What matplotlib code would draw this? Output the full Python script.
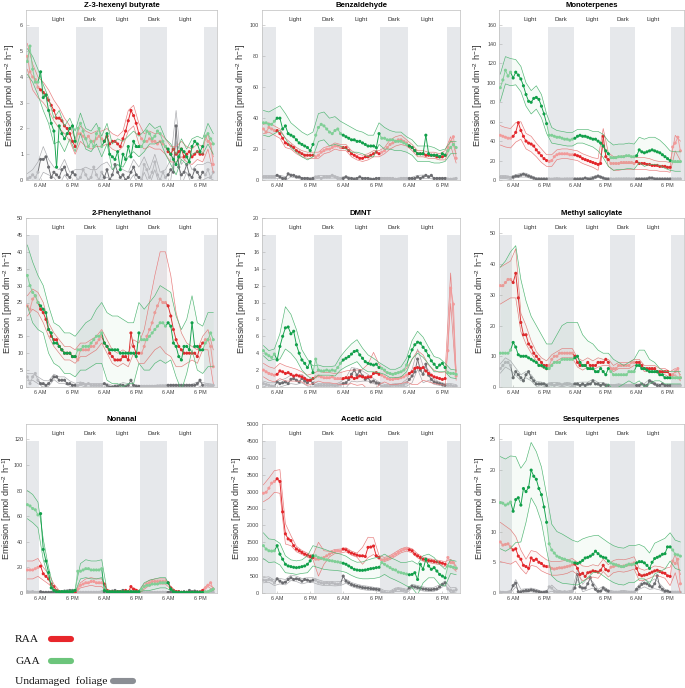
import numpy as np
import matplotlib.pyplot as plt
from matplotlib.collections import LineCollection
from matplotlib.lines import Line2D

plt.rcParams['font.family'] = ['Liberation Sans', 'DejaVu Sans']
plt.rcParams['mathtext.default'] = 'regular'

# time axis (hours from first midnight), one sample per hour; bands every 2 h
hours = list(range(1, 72))
sd_hours = hours[::2]
tick_hours = [6, 18, 30, 42, 54, 66]
tick_labels = ['6 AM', '6 PM', '6 AM', '6 PM', '6 AM', '6 PM']
dark_periods = [(0.5, 5.5), (19.5, 29.5), (43.5, 53.5), (67.5, 72.4)]
period_labels = [(12.5, 'Light'), (24.5, 'Dark'), (36.5, 'Light'), (48.5, 'Dark'), (60.5, 'Light')]

# ---- Z-3-hexenyl butyrate
z3hb_raa = [4.8, 4.2, 4.0, 3.9, 3.6,
            3.5, 3.4, 3.3, 3.1, 2.9, 2.7, 2.4, 2.4, 2.3, 2.1, 2.0, 1.8, 1.5, 1.3,
            1.8, 1.8, 1.7, 1.6, 1.7, 1.5, 1.5, 1.6, 1.7, 1.6,
            1.5, 1.7, 1.4, 1.5, 1.5, 1.4, 1.3, 1.6, 1.9, 2.3, 2.7, 2.5, 2.2, 1.8,
            1.6, 1.5, 1.5, 1.6, 1.5, 1.5, 1.4, 1.5, 1.4, 1.3,
            1.1, 1.0, 1.2, 1.0, 1.1, 1.2, 0.9, 1.0, 1.1, 0.9, 1.0, 1.1, 1.0, 1.0,
            1.7, 1.5, 1.4, 0.6]
z3hb_raa_sd = [0.5, 0.5, 0.4, 0.4, 0.4, 0.4, 0.4, 0.3, 0.3, 0.3, 0.3, 0.3, 0.3, 0.3, 0.3, 0.3, 0.3, 0.3,
               0.3, 0.4, 0.4, 0.4, 0.3, 0.3, 0.3, 0.3, 0.3, 0.3, 0.3, 0.3, 0.3, 0.3, 0.3, 0.3, 0.3, 0.3]
z3hb_gaa = [4.6, 5.2, 4.3, 3.8, 3.8,
            4.2, 3.2, 3.3, 2.7, 2.2, 1.9, 0.5, 2.1, 1.8, 1.6, 1.8, 2.0, 2.1, 1.5,
            2.0, 2.2, 1.9, 1.6, 1.3, 1.5, 1.3, 1.8, 2.0, 1.3,
            1.5, 1.8, 1.0, 0.9, 0.8, 1.1, 0.4, 1.0, 0.8, 1.3, 0.9, 1.5, 1.3, 1.3,
            1.3, 1.5, 1.9, 1.8, 1.6, 1.7, 1.9, 1.8, 1.5, 1.3,
            1.2, 1.0, 0.8, 0.6, 0.9, 1.2, 1.1, 0.9, 0.7, 1.3, 1.5, 1.4, 1.1, 1.3,
            1.7, 1.8, 1.6, 1.4]
z3hb_gaa_sd = [0.5, 0.5, 0.5, 0.5, 0.5, 0.5, 0.6, 0.5, 0.4, 0.4, 0.4, 0.4, 0.4, 0.4, 0.4, 0.4, 0.5, 0.5,
               0.5, 0.4, 0.4, 0.4, 0.4, 0.4, 0.3, 0.3, 0.3, 0.4, 0.4, 0.4, 0.3, 0.3, 0.3, 0.3, 0.4, 0.4]
z3hb_und = [0.05, 0.1, 0.2, 0.1, 0.3,
            0.8, 0.8, 0.9, 0.5, 0.1, 0.3, 0.2, 0.1, 0.4, 0.5, 0.2, 0.1, 0.3, 0.2,
            0.0, 0.1, 0.4, 0.2, 0.0, 0.1, 0.5, 0.2, 0.0, 0.3,
            0.1, 0.4, 0.0, 0.2, 0.6, 0.3, 0.1, 0.2, 0.0, 0.1, 0.3, 0.5, 0.2, 0.1,
            0.0, 0.6, 0.4, 0.1, 0.3, 0.7, 0.2, 0.0, 0.3, 0.1,
            0.2, 0.4, 0.3, 2.1, 0.5, 0.2, 0.3, 0.6, 0.2, 0.1, 0.4, 0.3, 0.1, 0.3,
            0.2, 0.4, 0.1, 0.3]
z3hb_und_sd = [0.2, 0.2, 0.4, 0.5, 0.3, 0.2, 0.3, 0.3, 0.2, 0.2, 0.3, 0.3, 0.3, 0.2, 0.3, 0.3, 0.2, 0.3,
               0.2, 0.2, 0.3, 0.4, 0.3, 0.3, 0.3, 0.3, 0.3, 0.4, 0.6, 0.4, 0.3, 0.3, 0.3, 0.3, 0.3, 0.3]

# ---- Benzaldehyde
benz_raa = [33, 31, 34, 33, 32,
            32, 30, 27, 24, 23, 22, 21, 19, 18, 17, 16, 16, 16, 16,
            15, 16, 18, 19, 20, 20, 21, 22, 22, 21,
            21, 21, 19, 17, 16, 15, 14, 14, 15, 15, 16, 17, 18, 17,
            18, 19, 21, 23, 24, 25, 26, 26, 25, 24,
            22, 21, 19, 17, 17, 17, 16, 16, 16, 16, 15, 15, 15, 16,
            21, 25, 28, 14]
benz_raa_sd = [3, 3, 3, 3, 3, 2, 2, 2, 2, 2, 2, 2, 2, 2, 2, 2, 2, 2,
               2, 2, 2, 2, 2, 3, 3, 3, 2, 2, 2, 2, 2, 2, 2, 3, 3, 3]
benz_gaa = [37, 37, 36, 36, 38,
            40, 40, 33, 35, 30, 29, 28, 26, 24, 23, 22, 21, 19, 23,
            29, 34, 36, 35, 33, 31, 30, 32, 33, 30,
            29, 28, 27, 26, 26, 25, 25, 24, 23, 22, 22, 22, 21, 30,
            27, 27, 26, 26, 26, 25, 25, 25, 24, 23,
            22, 21, 19, 17, 17, 17, 29, 17, 16, 16, 16, 15, 17, 16,
            19, 21, 23, 21]
benz_gaa_sd = [8, 8, 8, 8, 8, 8, 8, 8, 8, 8, 9, 9, 9, 9, 8, 8, 8, 7,
               7, 7, 7, 7, 7, 6, 6, 6, 5, 5, 5, 5, 5, 5, 4, 4, 4, 4]
benz_und = [2, 2, 2, 2, 2,
            3, 2, 1, 1, 4, 3, 3, 2, 2, 1, 1, 1, 0.5, 1,
            2, 2, 1, 2, 2, 2, 3, 2, 1, 1,
            1, 2, 1, 1, 0.5, 1, 2, 1, 1, 1, 0.5, 0.5, 1, 1,
            1, 1, 1, 1, 1, 0.5, 0.5, 1, 1, 1,
            1, 1, 1, 2, 1, 2, 3, 2, 3, 1, 1, 1, 1, 1,
            0.5, 0.5, 0.5, 1]
benz_und_sd = [0.8, 0.8, 0.8, 1.0, 1.2, 1.0, 0.8, 0.6, 0.6, 0.8, 0.8, 0.8, 0.8, 0.7, 0.6, 0.6, 0.6, 0.6,
               0.5, 0.5, 0.5, 0.5, 0.5, 0.5, 0.5, 0.5, 0.6, 0.8, 1.0, 1.2, 0.8, 0.6, 0.5, 0.5, 0.5, 0.5]

# ---- Monoterpenes
mono_raa = [46, 45, 44, 43, 43,
            45, 49, 59, 51, 45, 40, 38, 37, 35, 31, 28, 25, 22, 20,
            19, 20, 24, 26, 27, 27, 27, 27, 26, 26,
            26, 25, 24, 22, 21, 20, 19, 18, 17, 16, 17, 45, 24, 21,
            17, 17, 17, 17, 18, 18, 18, 18, 18, 17,
            19, 17, 17, 17, 16, 16, 15, 15, 15, 14, 14, 14, 13, 13,
            34, 38, 44, 30]
mono_raa_sd = [10, 10, 10, 10, 9, 8, 8, 7, 7, 6, 6, 5, 5, 5, 5, 5, 5, 5,
               5, 6, 8, 7, 7, 7, 7, 7, 6, 6, 6, 6, 5, 5, 5, 5, 8, 10]
mono_gaa = [95, 103, 113, 107, 111,
            105, 111, 108, 104, 97, 88, 81, 80, 84, 85, 83, 76, 68, 58,
            46, 46, 45, 44, 44, 43, 42, 42, 41, 42,
            43, 45, 46, 45, 45, 44, 43, 42, 42, 40, 38, 35, 30, 27,
            23, 23, 23, 24, 24, 24, 25, 25, 24, 24,
            25, 31, 29, 28, 29, 30, 31, 30, 29, 28, 26, 24, 22, 20,
            19, 19, 19, 19]
mono_gaa_sd = [14, 14, 14, 13, 13, 12, 12, 12, 12, 10, 8, 7, 7, 7, 7, 7, 7, 8,
               8, 10, 12, 13, 13, 13, 13, 13, 13, 13, 14, 14, 14, 13, 12, 10, 10, 10]
mono_und = [3, 3, 3, 3, 2,
            3, 4, 4, 5, 6, 5, 4, 3, 2, 1, 1, 1, 1, 1,
            1, 0.8, 1, 1.2, 1, 0.8, 1, 1, 0.9, 1,
            1, 1, 1, 1, 2, 1, 1, 2, 3, 4, 3, 2, 1, 1,
            1, 0.8, 1, 1, 0.9, 1, 1.1, 1, 0.8, 1,
            1, 1, 1, 1, 1, 2, 2, 1, 1, 1, 1, 1, 1, 1,
            1, 0.9, 1, 1]
mono_und_sd = [1.5, 1.5, 1.5, 1.5, 2, 2, 1.5, 1.2, 1, 1, 1, 1, 1, 1, 1, 1, 1.2, 1.5,
               1.5, 1.2, 1, 1, 1, 1, 1, 1, 1, 1, 1, 1.2, 1.2, 1, 1, 1, 1, 1]

# ---- 2-Phenylethanol
phen_raa = [24, 23, 26, 27, 25,
            23, 22, 20, 17, 15, 14, 14, 12, 11, 10, 10, 10, 9, 9,
            8, 11, 11, 11, 11, 12, 12, 13, 14, 15,
            13, 12, 10, 9, 8, 8, 8, 9, 9, 8, 16, 12, 10, 10,
            10, 12, 15, 17, 19, 22, 24, 26, 25, 25,
            24, 21, 17, 14, 12, 11, 10, 10, 10, 10, 10, 9, 12, 13,
            14, 14, 12, 6]
phen_raa_sd = [3, 3, 3, 3, 2, 2, 2, 2, 2, 2, 2, 2, 2, 2, 2, 2, 2, 2,
               2, 2, 2, 3, 5, 8, 11, 14, 15, 12, 8, 5, 3, 2, 2, 2, 3, 5]
phen_gaa = [33, 30, 28, 27, 25,
            24, 23, 22, 17, 16, 13, 13, 12, 11, 10, 10, 10, 9, 9,
            11, 11, 12, 12, 12, 13, 14, 15, 15, 16,
            13, 12, 11, 11, 11, 11, 10, 10, 10, 10, 10, 10, 9, 16,
            14, 14, 14, 15, 16, 17, 18, 19, 19, 18,
            19, 18, 13, 12, 9, 8, 12, 12, 11, 19, 12, 12, 11, 11,
            13, 14, 16, 14]
phen_gaa_sd = [9, 9, 8, 7, 7, 6, 6, 6, 6, 6, 6, 7, 7, 8, 9, 10, 10, 10,
               10, 9, 9, 9, 9, 10, 10, 11, 11, 10, 9, 9, 8, 8, 7, 7, 8, 8]
phen_und = [3, 1, 3, 4, 2,
            1, 1, 0.5, 1, 2, 3, 3, 2, 2, 2, 1, 1, 0.5, 0.5,
            0.5, 1, 1, 0.5, 1, 0.5, 0.5, 0.5, 0.5, 0.5,
            1, 0.5, 0, 0, 0.2, 0.2, 0.5, 0.5, 0.2, 0.5, 2, 0.5, 0.2, 0.2,
            0.2, 0.2, 0.2, 0.2, 0.2, 0.2, 0.3, 0.3, 0.3, 0.3,
            0.5, 0.5, 0.5, 0.5, 0.5, 0.5, 0.5, 0.5, 0.5, 0.5, 0.5, 1, 2, 0.5,
            0.5, 0.5, 0.5, 0.5]
phen_und_sd = [1, 1, 1, 1, 0.8, 0.8, 1, 1, 0.8, 0.6, 0.5, 0.5, 0.5, 0.5, 0.5, 0.5, 0.5, 0.5,
               0.8, 0.5, 0.3, 0.3, 0.3, 0.3, 0.3, 0.3, 0.3, 0.3, 0.3, 0.3, 0.3, 0.3, 0.5, 0.8, 0.5, 0.3]

# ---- DMNT
dmnt_raa = [2.0, 1.8, 1.6, 1.5, 1.4,
            1.5, 1.9, 1.8, 1.6, 1.7, 1.5, 1.3, 1.4, 1.3, 1.2, 1.0, 0.8, 0.8, 1.0,
            1.2, 1.3, 1.2, 1.1, 1.1, 1.1, 1.2, 1.0, 1.0, 1.0,
            1.0, 1.1, 1.1, 1.2, 1.0, 1.1, 1.3, 1.2, 1.1, 1.2, 1.2, 1.6, 1.7, 1.5,
            1.4, 1.2, 1.0, 0.9, 0.9, 1.0, 1.0, 1.1, 1.2, 1.4,
            1.6, 1.8, 2.2, 2.3, 2.2, 2.3, 1.9, 1.6, 1.4, 1.2, 1.1, 1.0, 0.9, 1.0,
            4.3, 11.7, 9.8, 1.3]
dmnt_raa_sd = [0.8, 0.8, 0.8, 0.9, 0.9, 0.8, 0.7, 0.6, 0.6, 0.6, 0.6, 0.6, 0.6, 0.6, 0.7, 0.8, 0.8, 0.9,
               0.9, 1.5, 2.5, 1.2, 0.6, 0.6, 0.7, 0.7, 0.8, 1.5, 2.0, 1.5, 1.0, 0.8, 0.7, 0.8, 1.8, 0.5]
dmnt_gaa = [4.3, 3.9, 3.7, 3.5, 3.9,
            3.2, 4.8, 6.0, 7.0, 7.1, 6.3, 6.6, 5.0, 4.0, 3.2, 2.8, 2.3, 3.0, 1.7,
            3.3, 2.0, 1.9, 1.9, 2.0, 1.9, 2.0, 1.9, 2.3, 2.8,
            3.2, 3.4, 3.6, 3.9, 4.2, 4.3, 3.8, 3.4, 3.0, 2.8, 2.7, 2.6, 2.7, 2.3,
            2.2, 2.0, 1.7, 1.6, 1.5, 1.6, 1.7, 1.8, 2.0, 2.6,
            3.6, 4.4, 5.0, 5.3, 5.2, 4.7, 4.3, 3.7, 3.1, 2.7, 2.3, 2.6, 2.8, 2.3,
            1.7, 1.6, 1.6, 1.5]
dmnt_gaa_sd = [0.6, 0.6, 0.6, 1.5, 2.5, 2.3, 1.8, 1.2, 1.0, 0.8, 0.6, 0.5, 0.5, 0.6, 0.8, 1.0, 1.2, 1.3,
               1.2, 1.0, 0.8, 0.6, 0.5, 0.5, 0.5, 0.6, 0.8, 1.1, 1.3, 1.2, 1.0, 0.9, 0.8, 0.5, 0.5, 0.5]
dmnt_und = [0.4, 0.3, 0.2, 0.1, 0.1,
            0.6, 0.4, 0.5, 0.6, 0.4, 0.9, 1.0, 0.8, 0.6, 1.0, 0.7, 0.5, 0.8, 0.4,
            0.2, 0.2, 0.2, 0.2, 0.2, 0.2, 0.2, 0.1, 0.2, 0.3,
            0.4, 0.5, 0.9, 1.5, 2.0, 1.4, 1.9, 1.3, 0.9, 1.1, 0.6, 0.7, 0.5, 0.4,
            0.1, 0.1, 0.1, 0.1, 0.2, 0.2, 0.2, 0.2, 0.3, 0.5,
            0.9, 1.3, 1.8, 3.3, 2.0, 1.5, 2.7, 1.4, 0.9, 0.6, 0.5, 0.4, 0.3, 0.2,
            0.2, 0.2, 0.1, 0.1]
dmnt_und_sd = [0.3, 0.3, 0.4, 0.4, 0.4, 0.5, 0.5, 0.5, 0.4, 0.3, 0.2, 0.2, 0.2, 0.2, 0.3, 0.6, 0.8, 0.8,
               0.6, 0.4, 0.3, 0.2, 0.2, 0.2, 0.2, 0.2, 0.4, 0.8, 1.2, 1.0, 0.6, 0.3, 0.2, 0.2, 0.2, 0.2]

# ---- Methyl salicylate
mesa_raa = [33, 33, 34, 35, 35,
            34, 37, 29, 21, 17, 17, 14, 13, 11, 10, 9, 8, 7, 7,
            7, 9, 10, 10, 11, 11, 11, 11, 11, 11,
            10, 8, 7, 7, 7, 8, 7, 7, 7, 8, 8, 8, 9, 8,
            6, 6, 6, 7, 7, 7, 7, 7, 8, 8,
            8, 8, 7, 6, 6, 6, 6, 6, 5, 5, 5, 5, 5, 4,
            4, 5, 6, 3]
mesa_raa_sd = [6, 6, 6, 8, 3, 3, 2, 1.5, 1.5, 1.5, 1.5, 1.5, 1.5, 1.5, 1.5, 1.5, 1.5, 1.5,
               1.5, 1.5, 1, 1, 1, 1, 1, 1, 1, 1, 1, 1, 1, 1, 1, 1, 1, 1]
mesa_gaa = [11, 11, 11, 11, 12,
            14.5, 13, 10.5, 10, 10, 10, 9.5, 9, 8.5, 8, 7, 7, 6.5, 6,
            6, 7, 8, 8, 8, 9, 9, 9, 9, 9,
            9.5, 10, 8, 7, 7, 6, 6, 6, 5, 5, 6, 5, 4, 6,
            5, 4, 4, 4, 4, 4, 4, 5, 5, 5,
            7, 7, 6, 6, 5.5, 5, 5, 5, 5, 4, 4, 3, 3, 3,
            3, 3, 3, 3]
mesa_gaa_sd = [28, 30, 32, 33, 25, 18, 14, 12, 10, 8, 7, 9, 11, 12, 12, 11, 10, 9,
               8, 7, 6, 5, 5, 4, 3, 3, 4, 5, 6, 4, 3, 2, 2, 2, 2, 2]
mesa_und = [6, 7, 8, 8, 7,
            3, 5, 4, 3, 2, 4, 5, 3, 2, 1, 1, 1, 1, 0.5,
            1, 1, 0.5, 1, 1, 0.5, 1, 1, 1, 0.5,
            1, 1, 0.5, 1, 0.5, 1, 1, 2, 1, 1, 0.5, 1, 0.5, 0.5,
            0.5, 0.4, 0.5, 0.6, 0.5, 0.4, 0.5, 0.5, 0.6, 0.5,
            0.5, 0.5, 1, 0.5, 0.5, 2, 1.5, 1, 0.5, 0.5, 1, 0.5, 0.5, 0.5,
            0.5, 0.4, 0.5, 0.5]
mesa_und_sd = [1.5, 1.5, 1.5, 1.2, 1.0, 1.0, 1.0, 0.8, 0.6, 0.5, 0.5, 0.5, 0.5, 0.5, 0.5, 0.5, 0.6, 0.6,
               0.5, 0.5, 0.4, 0.4, 0.4, 0.4, 0.4, 0.4, 0.4, 0.5, 0.6, 0.5, 0.4, 0.4, 0.4, 0.4, 0.4, 0.4]

# ---- Nonanal
nona_raa = [18, 18, 18, 19, 20,
            21, 15, 13, 11, 7, 5, 2, 1, 0.5, 0.5, 0.5, 0.5, 0.5, 0.5,
            3, 6, 7, 8, 8, 9, 9, 8, 8, 8,
            7, 2, 1, 1, 1, 1, 1, 1, 2, 1, 5, 3, 2, 1,
            2, 5, 7, 8, 9, 9, 9, 9, 9, 9,
            8, 4, 2, 1, 1, 0.5, 0.5, 0.5, 0.5, 0.5, 0.5, 0.5, 0.5, 2,
            4, 6, 8, 3]
nona_raa_sd = [7, 7, 7, 5, 4, 2, 1, 0.5, 0.5, 0.5, 2, 3, 3, 3, 3, 1, 0.5, 0.5,
               0.5, 1, 1, 1, 2, 2, 2, 2, 2, 1, 0.5, 0.5, 0.5, 0.5, 0.5, 0.5, 1, 1]
nona_gaa = [69, 68, 66, 65, 61,
            62, 34, 25, 16, 4, 2, 1, 1, 1, 1, 1, 1, 1, 2,
            17, 17, 18, 19, 19, 18, 18, 18, 18, 19,
            2, 1, 1, 1, 1, 1, 1, 1, 1, 1, 1, 1, 1, 1,
            3, 5, 6, 6, 7, 7, 7, 8, 8, 8,
            8, 3, 1, 0.5, 0.5, 0.5, 0.5, 0.5, 0.5, 0.5, 0.5, 0.5, 0.5, 0.5,
            1, 1, 2, 3]
nona_gaa_sd = [11, 11, 10, 8, 4, 1, 1, 1, 1, 1, 6, 7, 7, 7, 7, 1, 0.5, 0.5,
               0.5, 0.5, 0.5, 0.5, 3, 4, 4, 4, 4, 1, 0.5, 0.5, 0.5, 0.5, 0.5, 0.5, 0.5, 1]
nona_und = [1, 0.5, 1, 0.5, 0.5,
            1, 0.5, 0.5, 0.5, 0.5, 1, 0.5, 1, 1, 1.5, 1.5, 2, 2, 1,
            0.5, 0.5, 0.5, 0.5, 0.5, 0.5, 0.5, 0.5, 0.5, 1,
            1, 1.5, 1, 1.5, 2, 1, 1, 2, 1, 0.5, 1, 1, 1, 0.5,
            0.5, 0.4, 0.5, 0.6, 0.5, 0.4, 0.5, 0.5, 0.6, 0.5,
            0.5, 1, 0.5, 1, 1, 0.5, 1, 0.5, 2, 1, 1.5, 1, 1, 0.5,
            0.5, 0.5, 0.5, 0.5]
nona_und_sd = [0.5, 0.5, 0.5, 0.5, 0.5, 0.5, 0.5, 0.6, 0.6, 0.5, 0.4, 0.4, 0.4, 0.4, 0.4, 0.5, 0.6, 0.6,
               0.5, 0.5, 0.4, 0.4, 0.4, 0.4, 0.4, 0.4, 0.4, 0.5, 0.6, 0.5, 0.5, 0.5, 0.4, 0.4, 0.4, 0.4]

# ---- Acetic acid
acet_raa = [2950, 2980, 3100, 3250, 3300,
            3380, 3300, 2400, 1750, 1600, 1550, 1400, 1300, 1250, 1200, 1150, 1120, 1080, 1050,
            1000, 1000, 1020, 1050, 1100, 1150, 1200, 1230, 1250, 1240,
            1300, 1280, 1220, 1180, 1150, 1120, 1100, 1100, 1080, 1350, 1360, 1390, 1100, 1050,
            980, 990, 1010, 1050, 1100, 1150, 1200, 1250, 1290, 1300,
            1280, 1250, 1150, 1100, 1050, 1000, 980, 960, 950, 930, 920, 900, 880, 850,
            1050, 900, 900, 720]
acet_raa_sd = [250, 300, 320, 350, 300, 150, 80, 60, 60, 60, 500, 200, 80, 60, 60, 60, 60, 60,
               250, 300, 250, 60, 60, 60, 60, 60, 60, 60, 60, 60, 60, 60, 60, 80, 100, 80]
acet_gaa = [1400, 1300, 1250, 1240, 1250,
            1400, 1150, 1000, 850, 800, 780, 760, 750, 760, 780, 800, 850, 950, 1100,
            1100, 1050, 1030, 1000, 980, 960, 950, 930, 920, 900,
            880, 850, 800, 750, 700, 680, 670, 670, 680, 700, 720, 730, 750, 760,
            900, 850, 800, 750, 700, 680, 620, 600, 580, 560,
            540, 550, 600, 400, 850, 700, 1000, 800, 700, 750, 650, 550, 500, 450,
            800, 780, 760, 740]
acet_gaa_sd = [380, 350, 330, 320, 250, 200, 200, 200, 250, 300, 300, 300, 280, 260, 250, 240, 230, 230,
               250, 280, 300, 300, 300, 300, 300, 300, 350, 400, 450, 400, 350, 300, 300, 250, 200, 200]
acet_und = [380, 370, 400, 380, 300,
            420, 350, 300, 320, 400, 450, 400, 420, 400, 350, 400, 380, 350, 380,
            380, 320, 300, 280, 300, 280, 300, 270, 260, 280,
            500, 350, 300, 250, 220, 200, 180, 160, 150, 140, 130, 120, 110, 100,
            40, 20, 0, 10, 50, 100, 130, 100, 80, 60,
            150, 200, 180, 160, 140, 120, 110, 100, 100, 110, 120, 180, 250, 300,
            120, 80, 60, 100]
acet_und_sd = [80, 80, 80, 80, 80, 80, 80, 80, 70, 70, 70, 60, 60, 60, 60, 60, 60, 60,
               60, 60, 50, 50, 50, 50, 50, 50, 50, 60, 60, 60, 60, 60, 60, 60, 70, 70]

# ---- Sesquiterpenes
sesq_raa = [8.3, 7.8, 7.9, 8.0, 7.5,
            7.0, 7.2, 6.0, 5.5, 4.5, 4.3, 4.0, 5.7, 5.3, 5.5, 5.0, 4.8, 4.4, 4.3,
            4.3, 4.0, 3.9, 4.0, 4.1, 4.1, 4.2, 4.3, 4.4, 4.6,
            4.7, 4.0, 3.0, 3.2, 2.7, 3.3, 3.4, 3.6, 3.5, 3.4, 3.7, 4.5, 3.8, 3.6,
            4.2, 4.3, 4.5, 4.5, 4.3, 4.4, 4.5, 4.6, 4.7, 4.9,
            4.0, 3.0, 2.8, 2.9, 3.0, 3.2, 3.4, 3.6, 3.7, 3.5, 3.3, 3.2, 2.8, 2.7,
            5.2, 4.8, 5.5, 1.5]
sesq_raa_sd = [3.2, 3.0, 2.8, 2.0, 1.5, 1.2, 1.2, 1.2, 1.2, 1.1, 1.1, 1.1, 1.1, 1.1, 1.0, 1.0, 1.2, 1.0,
               1.0, 1.0, 1.0, 1.0, 1.0, 1.0, 1.0, 1.0, 1.0, 1.0, 0.8, 0.8, 0.8, 0.8, 0.8, 1.5, 1.5, 1.5]
sesq_gaa = [14.7, 14.6, 14.3, 14.5, 14.8,
            13.3, 15.2, 15.5, 14.3, 17.0, 16.5, 17.2, 20.0, 19.0, 18.5, 17.0, 16.0, 14.0, 11.5,
            8.0, 7.0, 6.5, 6.0, 5.8, 5.6, 5.5, 5.3, 5.2, 5.0,
            4.9, 4.8, 5.0, 5.3, 5.7, 5.8, 6.0, 6.3, 6.8, 6.4, 6.0, 5.8, 5.7, 5.2,
            4.9, 4.7, 4.6, 4.4, 4.3, 4.3, 4.5, 4.7, 4.6, 4.7,
            4.9, 5.1, 5.1, 4.9, 4.5, 4.0, 5.0, 5.6, 5.8, 6.0, 6.3, 6.4, 7.5, 7.5,
            7.0, 6.3, 6.2, 6.0]
sesq_gaa_sd = [7.5, 7.5, 7.5, 7, 6, 5, 4.5, 4.5, 4.5, 4.5, 4.2, 4.0, 4.0, 3.8, 3.6, 3.5, 3.5, 3.3,
               3.0, 3.0, 3.0, 3.0, 3.0, 3.0, 3.0, 3.0, 3.0, 2.8, 2.6, 2.5, 2.5, 2.5, 2.5, 2.3, 2.3, 2.3]
sesq_und = [0.1, 0.1, 0.0, 0.1, 0.2,
            1.2, 1.6, 0.2, 0.2, 0.3, 0.4, 0.4, 0.5, 0.4, 0.3, 0.2, 0.1, 0.1, 0.2,
            1.0, 0.8, 0.3, 0.2, 0.2, 0.1, 0.2, 0.1, 0.1, 0.3,
            0.8, 3.0, 1.0, 0.8, 0.8, 1.5, 2.5, 1.3, 0.6, 0.3, 0.3, 0.8, 0.5, 0.3,
            0.1, 0.1, 0.1, 0.1, 0.2, 0.2, 0.1, 0.1, 0.1, 0.1,
            0.6, 1.0, 1.4, 1.6, 1.5, 1.2, 1.0, 1.5, 2.8, 1.0, 0.6, 0.3, 0.3, 0.1,
            0.1, 0.1, 0.1, 0.1]
sesq_und_sd = [0.2, 0.2, 0.2, 0.6, 0.4, 0.3, 0.3, 0.3, 0.2, 0.2, 0.5, 0.3, 0.2, 0.2, 0.2, 0.8, 0.6, 1.0,
               0.5, 0.3, 0.3, 0.2, 0.2, 0.2, 0.2, 0.2, 0.2, 0.4, 0.6, 0.6, 0.8, 0.5, 0.3, 0.2, 0.2, 0.2]

# title, y top, y tick step, data
panels = [
    ('Z-3-hexenyl butyrate', 6.6, 1, z3hb_raa, z3hb_raa_sd, z3hb_gaa, z3hb_gaa_sd, z3hb_und, z3hb_und_sd),
    ('Benzaldehyde', 110, 20, benz_raa, benz_raa_sd, benz_gaa, benz_gaa_sd, benz_und, benz_und_sd),
    ('Monoterpenes', 175, 20, mono_raa, mono_raa_sd, mono_gaa, mono_gaa_sd, mono_und, mono_und_sd),
    ('2-Phenylethanol', 50, 5, phen_raa, phen_raa_sd, phen_gaa, phen_gaa_sd, phen_und, phen_und_sd),
    ('DMNT', 20, 2, dmnt_raa, dmnt_raa_sd, dmnt_gaa, dmnt_gaa_sd, dmnt_und, dmnt_und_sd),
    ('Methyl salicylate', 55, 10, mesa_raa, mesa_raa_sd, mesa_gaa, mesa_gaa_sd, mesa_und, mesa_und_sd),
    ('Nonanal', 132, 20, nona_raa, nona_raa_sd, nona_gaa, nona_gaa_sd, nona_und, nona_und_sd),
    ('Acetic acid', 5000, 500, acet_raa, acet_raa_sd, acet_gaa, acet_gaa_sd, acet_und, acet_und_sd),
    ('Sesquiterpenes', 27.5, 5, sesq_raa, sesq_raa_sd, sesq_gaa, sesq_gaa_sd, sesq_und, sesq_und_sd),
]

for p in panels:
    for arr in p[3::2]:
        assert len(arr) == len(hours), (p[0], len(arr))
    for arr in p[4::2]:
        assert len(arr) == len(sd_hours), (p[0], len(arr))

# colours: (light-period marker, dark-period marker, band)
styles = {
    'und': ('#6b6c70', '#b8b9bd', '#a8a9ad'),
    'raa': ('#e3262b', '#f29a9a', '#e77b7b'),
    'gaa': ('#11a04a', '#7fcf96', '#4fb572'),
}
is_dark = [any(a <= h <= b for a, b in dark_periods) for h in hours]


def draw_series(ax, mean, sd, key, z):
    col, col_dark, col_band = styles[key]
    m = np.array(mean, dtype=float)
    s = np.array(sd, dtype=float)
    lo, hi = m[::2] - s, m[::2] + s
    ax.fill_between(sd_hours, lo, hi, color=col_band, alpha=0.05, lw=0, zorder=z)
    ax.plot(sd_hours, lo, color=col_band, lw=0.45, zorder=z)
    ax.plot(sd_hours, hi, color=col_band, lw=0.45, zorder=z)
    pts = np.column_stack([hours, m])
    segs = np.stack([pts[:-1], pts[1:]], axis=1)
    seg_cols = [col_dark if d else col for d in is_dark[1:]]
    ax.add_collection(LineCollection(segs, colors=seg_cols, lw=0.65, zorder=z + 0.1))
    ax.scatter(hours, m, s=5, c=[col_dark if d else col for d in is_dark],
               lw=0, zorder=z + 0.2)


W, H = 685, 688
fig = plt.figure(figsize=(W / 100, H / 100), dpi=100)
cols = [(26, 217), (262, 460), (499, 684)]
rows = [(10, 180), (218, 387), (424, 593)]
# distance (px) from the y axis to the right edge of each y label
label_gap = [9, 14, 14, 11, 13, 12, 12, 18, 12]

for i, (title, ytop, ystep, raa, raa_sd, gaa, gaa_sd, und, und_sd) in enumerate(panels):
    l, r = cols[i % 3]
    t, b = rows[i // 3]
    ax = fig.add_axes([l / W, 1 - b / H, (r - l) / W, (b - t) / H])
    for a, c in dark_periods:
        ax.axvspan(a, c, ymin=0, ymax=0.9, color='#e6e8eb', lw=0, zorder=0)
    for x, lab in period_labels:
        ax.text(x, 0.945 * ytop, lab, ha='center', va='center', fontsize=4.3, color='#333333')

    draw_series(ax, und, und_sd, 'und', 2)
    draw_series(ax, raa, raa_sd, 'raa', 3)
    draw_series(ax, gaa, gaa_sd, 'gaa', 4)

    ax.set_xlim(0.5, 72.4)
    ax.set_ylim(0, ytop)
    ax.set_xticks(tick_hours)
    ax.set_xticklabels(tick_labels)
    ax.set_yticks(np.arange(0, ytop + 1e-9, ystep))
    ax.tick_params(labelsize=3.9, length=1.8, width=0.4, direction='in', colors='#b0b0b0',
                   labelcolor='#444444', pad=2)
    for sp in ax.spines.values():
        sp.set_color('#bdbdbd')
        sp.set_linewidth(0.5)
    ax.set_title(title, fontsize=5.6, fontweight='bold', pad=2.5)
    ax.set_ylabel('Emission [pmol dm$^{-2}$ h$^{-1}$]', fontsize=6.6, color='#333333')
    ax.yaxis.set_label_coords(-label_gap[i] / (r - l), 0.5)

# legend drawn in figure pixels
legend_items = [('RAA', 639, 51, 71, '#e8262b'),
                ('GAA', 661, 51, 71, '#6cc57b'),
                ('Undamaged  foliage', 681, 113, 133, '#8b8e94')]
for label, y, x0, x1, c in legend_items:
    fig.text(15 / W, 1 - y / H, label, fontsize=8.2, family='Liberation Serif',
             va='center', ha='left', color='#111111')
    fig.add_artist(Line2D([x0 / W, x1 / W], [1 - y / H, 1 - y / H], transform=fig.transFigure,
                          lw=4.4, color=c, solid_capstyle='round'))

fig.savefig('out.png', dpi=100)
